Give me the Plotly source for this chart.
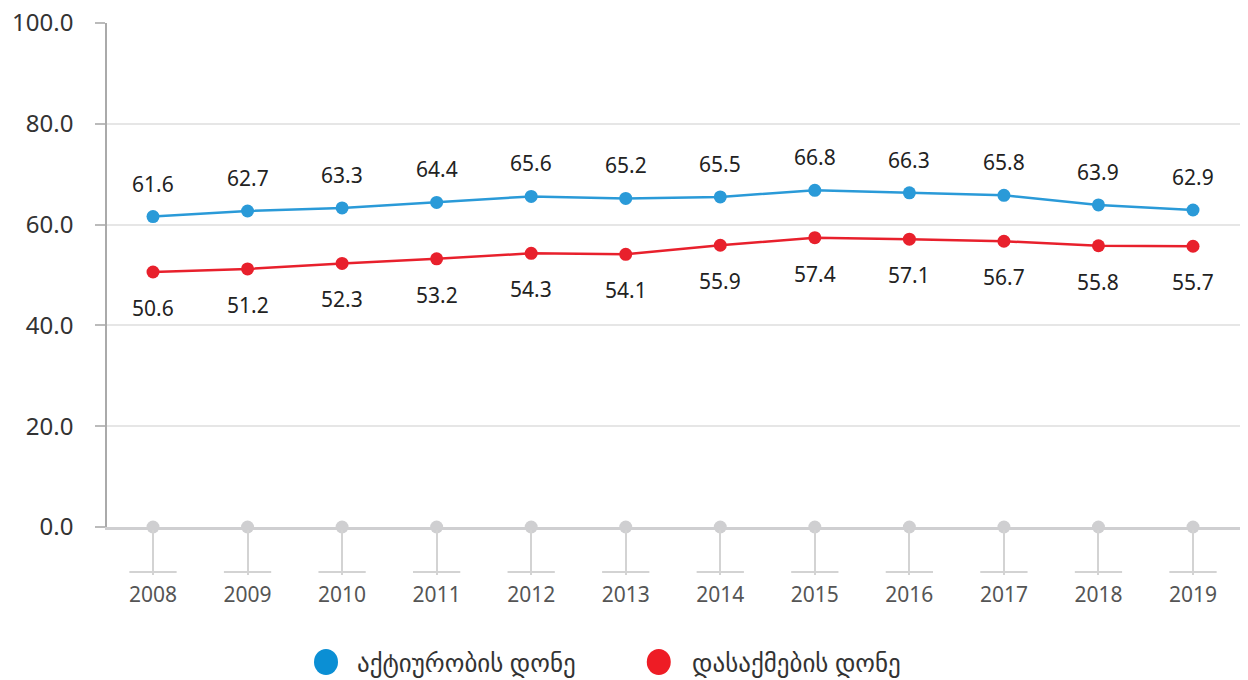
import plotly.graph_objects as go

years = [2008, 2009, 2010, 2011, 2012, 2013, 2014, 2015, 2016, 2017, 2018, 2019]
activity = [61.6, 62.7, 63.3, 64.4, 65.6, 65.2, 65.5, 66.8, 66.3, 65.8, 63.9, 62.9]
employment = [50.6, 51.2, 52.3, 53.2, 54.3, 54.1, 55.9, 57.4, 57.1, 56.7, 55.8, 55.7]
series_names = ["აქტიურობის დონე", "დასაქმების დონე"]
y_ticks = [0, 20, 40, 60, 80, 100]

BLUE = "#2a9ad8"
RED = "#e8202c"
LEG_BLUE = "#0b8fd4"
LEG_RED = "#ee1c25"
FONT = "Noto Sans, DejaVu Sans, sans-serif"

fig = go.Figure()

# baseline dots at zero
fig.add_trace(go.Scatter(
    x=years, y=[0] * len(years), mode="markers",
    marker=dict(size=13, color="#cfcfd1"), cliponaxis=False,
    showlegend=False, hoverinfo="skip"))

fig.add_trace(go.Scatter(
    x=years, y=activity, mode="lines+markers", name=series_names[0],
    line=dict(color=BLUE, width=2.5), marker=dict(size=13, color=BLUE),
    cliponaxis=False, showlegend=False))
fig.add_trace(go.Scatter(
    x=years, y=employment, mode="lines+markers", name=series_names[1],
    line=dict(color=RED, width=2.5), marker=dict(size=13, color=RED),
    cliponaxis=False, showlegend=False))

annotations = []
for x, v in zip(years, activity):
    annotations.append(dict(x=x, y=v, xref="x", yref="y", text=f"{v:.1f}",
                            showarrow=False, yshift=33,
                            font=dict(family=FONT, size=21, color="#222")))
for x, v in zip(years, employment):
    annotations.append(dict(x=x, y=v, xref="x", yref="y", text=f"{v:.1f}",
                            showarrow=False, yshift=-36,
                            font=dict(family=FONT, size=21, color="#222")))

# T-bar feet under the stems
shapes = []
for x in years:
    shapes.append(dict(type="line", xref="x", yref="paper",
                       x0=x - 0.25, x1=x + 0.25, y0=-0.0893, y1=-0.0893,
                       line=dict(color="#d3d3d3", width=2)))

# custom legend
leg = [(0.1933, 0.2189, LEG_BLUE, series_names[0]),
       (0.487, 0.5146, LEG_RED, series_names[1])]
for cx, tx, col, name in leg:
    shapes.append(dict(type="circle", xref="paper", yref="paper",
                       xsizemode="pixel", ysizemode="pixel",
                       xanchor=cx, yanchor=-0.2679,
                       x0=-12, x1=12, y0=-13, y1=13,
                       fillcolor=col, line=dict(width=0)))
    annotations.append(dict(x=tx, y=-0.2679, xref="paper", yref="paper",
                            text=name, showarrow=False, xanchor="left",
                            yanchor="middle",
                            font=dict(family=FONT, size=25, color="#333")))

fig.update_layout(
    width=1248, height=680,
    margin=dict(l=107, r=8, t=23, b=153),
    paper_bgcolor="white", plot_bgcolor="white",
    showlegend=False,
    annotations=annotations, shapes=shapes,
    xaxis=dict(range=[2007.5135, 2019.497], tickmode="array",
               tickvals=years, ticktext=[str(y) for y in years],
               showgrid=False, zeroline=False, automargin=False,
               showline=True, linecolor="#cfcfd1", linewidth=2.5,
               ticks="outside", ticklen=45, tickwidth=2, tickcolor="#d3d3d3",
               ticklabelstandoff=2,
               tickfont=dict(family=FONT, size=21, color="#555")),
    yaxis=dict(range=[0, 100], tickmode="array", tickvals=y_ticks,
               ticktext=[f"{v:.1f}" for v in y_ticks],
               showgrid=True, gridcolor="#e6e6e6", gridwidth=1.5,
               zeroline=False, showline=True, linecolor="#aaaaaa", linewidth=1.5,
               ticks="outside", ticklen=10, tickcolor="#bbbbbb", tickwidth=1.5,
               ticklabelstandoff=17, automargin=False,
               tickfont=dict(family=FONT, size=24, color="#333")),
)

fig.write_html("out.html", config={"displayModeBar": False},
               post_script="document.body.style.margin='0px';document.body.style.overflow='hidden';")
